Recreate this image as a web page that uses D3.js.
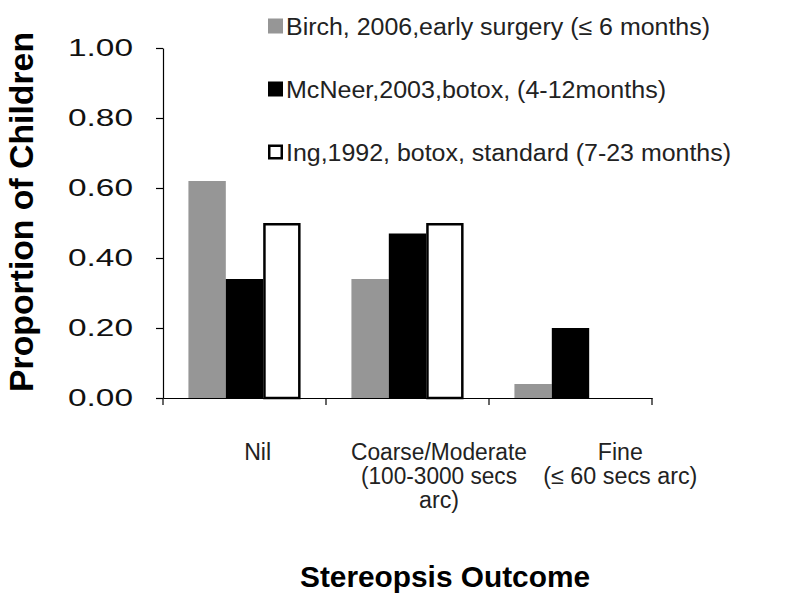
<!DOCTYPE html>
<html>
<head>
<meta charset="utf-8">
<script src="https://cdn.jsdelivr.net/npm/d3@7"></script>
<style>
  html, body { margin: 0; padding: 0; background: #fff; }
  svg { display: block; font-family: "Liberation Sans", Arial, sans-serif; }
</style>
</head>
<body>
<svg id="chart" width="800" height="605"></svg>
<script>
const categories = ["Nil", "Coarse/Moderate", "Fine"];
const categoryLabels = [
  ["Nil"],
  ["Coarse/Moderate", "(100-3000 secs", "arc)"],
  ["Fine", "(\u2264 60 secs arc)"]
];
const seriesNames = [
  "Birch, 2006,early surgery (\u2264 6 months)",
  "McNeer,2003,botox, (4-12months)",
  "Ing,1992, botox, standard (7-23 months)"
];
const birch = [0.62, 0.34, 0.04];
const mcneer = [0.34, 0.47, 0.20];
const ing = [0.50, 0.50, 0];
const yTicks = [0, 0.2, 0.4, 0.6, 0.8, 1.0];
const fills = ["#969696", "#000000", "#ffffff"];
const strokes = ["none", "none", "#000000"];

// text widths used to mimic the stretched glyphs of the original
const legendWidths = [424, 380, 445];
const catLabelWidths = [[27], [176, 156, 40], [45, 154]];

const series = [birch, mcneer, ing];
const svg = d3.select("#chart");

const x0 = d3.scaleBand().domain(categories).range([163, 652]).paddingInner(0).paddingOuter(0);
const x1 = d3.scaleBand().domain(d3.range(series.length)).range([0, x0.bandwidth()]).paddingInner(0).paddingOuter(0.68);
const y = d3.scaleLinear().domain([0, 1]).range([398, 48]);
const xLabel = d3.scaleBand().domain(categories).range([167, 711]);

// Y axis
const yAxis = d3.axisLeft(y).tickValues(yTicks).tickFormat(d3.format(".2f")).tickSize(7).tickSizeOuter(0);
const gy = svg.append("g").attr("transform", "translate(163,0)").call(yAxis);
gy.select(".domain").attr("stroke", "#000").attr("stroke-width", 1.2);
gy.selectAll(".tick line").attr("stroke", "#000").attr("stroke-width", 1.2);
gy.selectAll(".tick text").attr("x", -30).attr("font-size", 24).attr("fill", "#111")
  .attr("font-family", "Liberation Sans, Arial, sans-serif")
  .attr("textLength", 65).attr("lengthAdjust", "spacingAndGlyphs");

// Bars
categories.forEach((c, ci) => {
  series.forEach((s, si) => {
    const v = s[ci];
    if (v <= 0) return;
    const sw = strokes[si] === "none" ? 0 : 2.5;
    svg.append("rect")
      .attr("x", x0(c) + x1(si) + sw / 2)
      .attr("y", y(v) + sw / 2)
      .attr("width", x1.bandwidth() - sw)
      .attr("height", y(0) - y(v) - sw / 2)
      .attr("fill", fills[si])
      .attr("stroke", strokes[si])
      .attr("stroke-width", sw);
  });
});

// X axis
const xAxis = d3.axisBottom(x0).tickSize(0).tickFormat("");
const gx = svg.append("g").attr("transform", "translate(0,398)").call(xAxis);
gx.select(".domain").attr("stroke", "#000").attr("stroke-width", 1.2);
const boundaries = categories.map(c => x0(c)).concat([x0.range()[1]]);
gx.selectAll(".bt").data(boundaries).enter().append("line")
  .attr("x1", d => d).attr("x2", d => d).attr("y1", 0).attr("y2", 7)
  .attr("stroke", "#000").attr("stroke-width", 1.2);

// Category labels
categories.forEach((c, ci) => {
  categoryLabels[ci].forEach((line, li) => {
    svg.append("text")
      .attr("text-anchor", "middle")
      .attr("font-size", 23)
      .attr("fill", "#222")
      .attr("x", xLabel(c) + xLabel.bandwidth() / 2)
      .attr("y", 460 + li * 24)
      .attr("textLength", catLabelWidths[ci][li])
      .attr("lengthAdjust", "spacingAndGlyphs")
      .text(line);
  });
});

// Axis titles
svg.append("text")
  .attr("transform", "translate(33,212) rotate(-90)")
  .attr("text-anchor", "middle")
  .attr("font-size", 33)
  .attr("font-weight", "bold")
  .attr("fill", "#000")
  .attr("textLength", 360)
  .attr("lengthAdjust", "spacingAndGlyphs")
  .text("Proportion of Children");

svg.append("text")
  .attr("x", 445)
  .attr("y", 587)
  .attr("text-anchor", "middle")
  .attr("font-size", 30)
  .attr("font-weight", "bold")
  .attr("fill", "#000")
  .attr("textLength", 290)
  .attr("lengthAdjust", "spacingAndGlyphs")
  .text("Stereopsis Outcome");

// Legend
const legendY = [26, 89, 152];
seriesNames.forEach((name, i) => {
  const g = svg.append("g").attr("transform", `translate(268,${legendY[i]})`);
  const sw = strokes[i] === "none" ? 0 : 2.5;
  g.append("rect")
    .attr("x", sw / 2).attr("y", -7.5 + sw / 2)
    .attr("width", 15 - sw).attr("height", 15 - sw)
    .attr("fill", fills[i]).attr("stroke", strokes[i]).attr("stroke-width", sw);
  g.append("text")
    .attr("x", 18)
    .attr("y", 9)
    .attr("font-size", 23.5)
    .attr("fill", "#222")
    .attr("textLength", legendWidths[i])
    .attr("lengthAdjust", "spacingAndGlyphs")
    .text(name);
});
</script>
</body>
</html>
